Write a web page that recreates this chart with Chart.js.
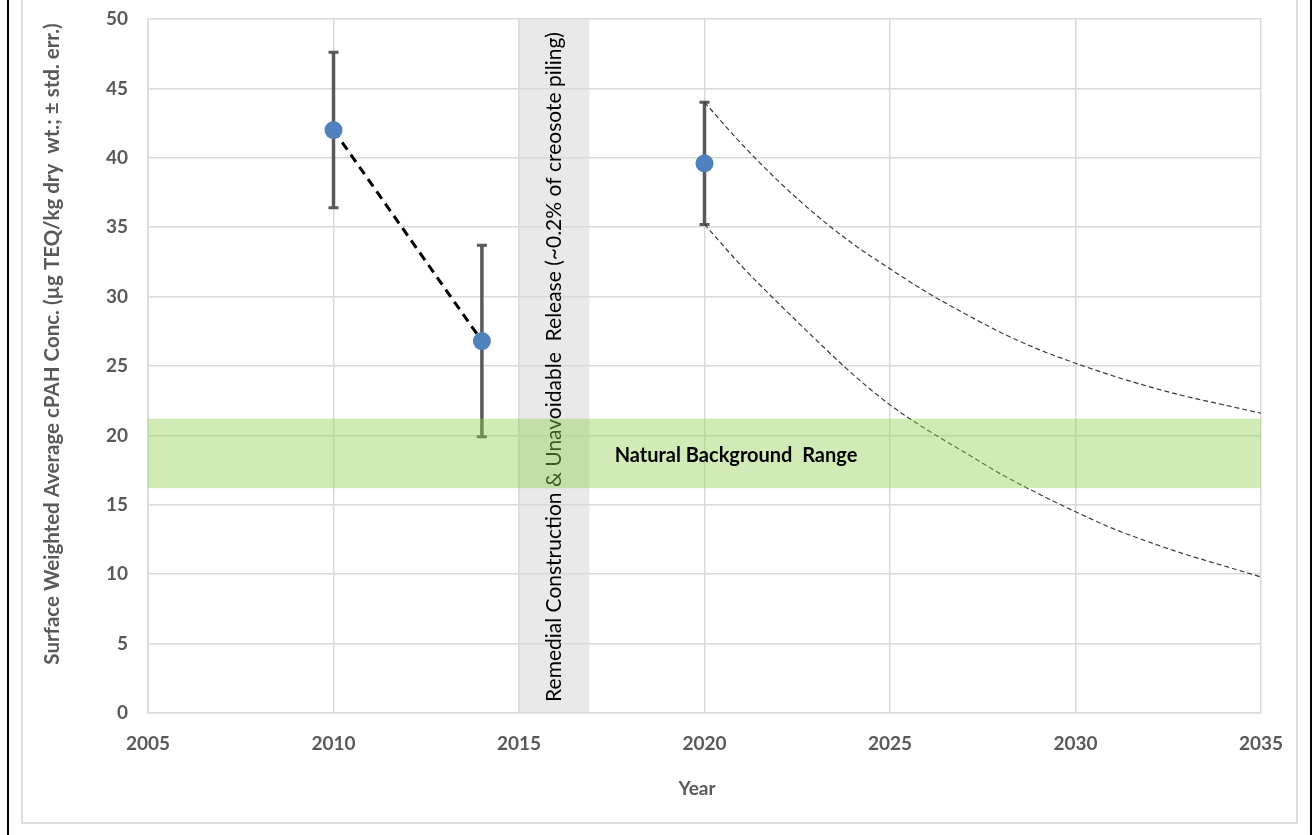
<!DOCTYPE html>
<html>
<head>
<meta charset="utf-8">
<script src="https://cdn.jsdelivr.net/npm/chart.js@4.4.1/dist/chart.umd.min.js"></script>
<style>
  html, body { margin: 0; padding: 0; background: #fff; }
  body { width: 1313px; height: 835px; position: relative; overflow: hidden; }
  .edge { position: absolute; top: 0; width: 2px; height: 835px; background: #000; }
  #frame { position: absolute; left: 21px; top: -2px; width: 1277px; height: 826px;
           border: 2px solid #dcdcdc; box-sizing: border-box; }
  #wrap { position: absolute; left: 0; top: 0; width: 1313px; height: 835px; }
</style>
</head>
<body>
<div class="edge" style="left:7px"></div>
<div class="edge" style="left:1310px"></div>
<div id="frame"></div>
<div id="wrap"><canvas id="c" width="1313" height="835"></canvas></div>
<script>
// Measured surface-weighted averages (± standard error)
const measYears  = [2010, 2014, 2020];
const measConc   = [42.0, 26.8, 39.6];
const measStdErr = [5.6, 6.9, 4.4];

// Projected recovery envelope after construction
const projYears = [2020, 2021, 2022, 2023, 2024, 2025, 2026, 2027, 2028, 2029, 2030, 2031, 2032, 2033, 2034, 2035];
const projUpper = [44.0, 41.0, 38.3, 35.9, 33.8, 32.0, 30.3, 28.8, 27.4, 26.2, 25.2, 24.3, 23.5, 22.8, 22.2, 21.6];
const projLower = [35.2, 32.2, 29.5, 26.9, 24.4, 22.2, 20.4, 18.8, 17.2, 15.8, 14.5, 13.3, 12.3, 11.4, 10.6, 9.8];

// Reference ranges
const backgroundRange = [16.2, 21.2];
const constructionPeriod = [2015.0, 2016.9];

// Axis ticks
const xTicks = [2005, 2010, 2015, 2020, 2025, 2030, 2035];
const yTicks = [0, 5, 10, 15, 20, 25, 30, 35, 40, 45, 50];

const FONT = 'Lato, "Open Sans", sans-serif';
const AXIS_GREY = '#595959';
const GRID = '#d9d9d9';

const pts = (xs, ys) => xs.map((x, i) => ({ x, y: ys[i] }));

// Grey construction-period band under the grid
const constructionBand = {
  id: 'constructionBand',
  beforeDraw(chart) {
    const { ctx, chartArea: a, scales: { x } } = chart;
    const x0 = x.getPixelForValue(constructionPeriod[0]);
    const x1 = x.getPixelForValue(constructionPeriod[1]);
    ctx.save();
    ctx.fillStyle = '#e9e9e9';
    ctx.fillRect(x0, a.top, x1 - x0, a.bottom - a.top);
    ctx.restore();
  },
  beforeDatasetsDraw(chart) {
    const { ctx, chartArea: a, scales: { x } } = chart;
    const cx = x.getPixelForValue((constructionPeriod[0] + constructionPeriod[1]) / 2);
    ctx.save();
    ctx.translate(cx, (a.top + a.bottom) / 2 + 1);
    ctx.rotate(-Math.PI / 2);
    ctx.fillStyle = '#000';
    ctx.font = '21px ' + FONT;
    ctx.textAlign = 'center';
    ctx.textBaseline = 'middle';
    ctx.fillText('Remedial Construction & Unavoidable  Release (~0.2% of creosote piling)', 0, 0);
    ctx.restore();
  }
};

// Standard-error whiskers behind the markers
const errorBars = {
  id: 'errorBars',
  beforeDatasetsDraw(chart) {
    const { ctx, scales: { x, y } } = chart;
    ctx.save();
    ctx.strokeStyle = AXIS_GREY;
    measYears.forEach((yr, i) => {
      const px = x.getPixelForValue(yr);
      const top = y.getPixelForValue(measConc[i] + measStdErr[i]);
      const bot = y.getPixelForValue(measConc[i] - measStdErr[i]);
      ctx.lineWidth = 3.5;
      ctx.beginPath();
      ctx.moveTo(px, top); ctx.lineTo(px, bot);
      ctx.stroke();
      ctx.lineWidth = 3;
      ctx.beginPath();
      ctx.moveTo(px - 5, top); ctx.lineTo(px + 5, top);
      ctx.moveTo(px - 5, bot); ctx.lineTo(px + 5, bot);
      ctx.stroke();
    });
    ctx.restore();
  }
};

// Translucent natural background band with its label
const backgroundBand = {
  id: 'backgroundBand',
  afterDatasetsDraw(chart) {
    const { ctx, chartArea: a, scales: { x, y } } = chart;
    const yTop = y.getPixelForValue(backgroundRange[1]);
    const yBot = y.getPixelForValue(backgroundRange[0]);
    ctx.save();
    ctx.fillStyle = 'rgba(146, 208, 80, 0.42)';
    ctx.fillRect(a.left, yTop, a.right - a.left, yBot - yTop);
    ctx.fillStyle = '#000';
    ctx.font = 'bold 20px ' + FONT;
    ctx.textAlign = 'center';
    ctx.textBaseline = 'middle';
    ctx.fillText('Natural Background  Range', 736, (yTop + yBot) / 2 + 2);
    ctx.restore();
  }
};

// Axis titles
const axisTitles = {
  id: 'axisTitles',
  afterDraw(chart) {
    const { ctx } = chart;
    ctx.save();
    ctx.fillStyle = AXIS_GREY;
    ctx.textAlign = 'center';
    ctx.textBaseline = 'middle';
    ctx.font = 'bold 19px ' + FONT;
    ctx.fillText('Year', 697, 789);
    ctx.translate(52, 344);
    ctx.rotate(-Math.PI / 2);
    ctx.font = 'bold 20.5px ' + FONT;
    ctx.fillText('Surface Weighted Average cPAH Conc. (\u00b5g TEQ/kg dry  wt.; \u00b1 std. err.)', 0, 0);
    ctx.restore();
  }
};

const tickFont = { family: FONT, size: 19, weight: 'bold' };

new Chart(document.getElementById('c'), {
  type: 'scatter',
  data: {
    datasets: [
      {
        label: 'Measured',
        data: pts(measYears, measConc),
        showLine: false,
        pointRadius: 9,
        pointHoverRadius: 9,
        pointBackgroundColor: '#4f81bd',
        pointBorderColor: '#4f81bd',
        pointBorderWidth: 0
      },
      {
        label: 'Pre-construction trend',
        data: pts(measYears.slice(0, 2), measConc.slice(0, 2)),
        showLine: true,
        borderColor: '#000',
        borderWidth: 3,
        borderDash: [9, 6],
        pointRadius: 0
      },
      {
        label: 'Projection (upper)',
        data: pts(projYears, projUpper),
        showLine: true,
        borderColor: '#3a3a3a',
        borderWidth: 1.2,
        borderDash: [5, 3],
        cubicInterpolationMode: 'monotone',
        pointRadius: 0
      },
      {
        label: 'Projection (lower)',
        data: pts(projYears, projLower),
        showLine: true,
        borderColor: '#3a3a3a',
        borderWidth: 1.2,
        borderDash: [5, 3],
        cubicInterpolationMode: 'monotone',
        pointRadius: 0
      }
    ]
  },
  options: {
    responsive: false,
    animation: false,
    layout: { padding: { left: 0, top: 19, right: 52, bottom: 0 } },
    plugins: { legend: { display: false }, tooltip: { enabled: false } },
    scales: {
      x: {
        type: 'linear',
        min: 2005, max: 2035,
        afterBuildTicks: s => { s.ticks = xTicks.map(v => ({ value: v })); },
        afterFit: s => { s.height = 122; },
        grid: { color: GRID, lineWidth: 1.5, drawTicks: false },
        border: { color: GRID, width: 1.5 },
        ticks: { padding: 19, color: AXIS_GREY, font: tickFont, maxRotation: 0, autoSkip: false,
                 callback: v => String(v) }
      },
      y: {
        type: 'linear',
        min: 0, max: 50,
        afterBuildTicks: s => { s.ticks = yTicks.map(v => ({ value: v })); },
        afterFit: s => { s.width = 148; s.paddingTop = 0; s.paddingBottom = 0; },
        grid: { color: GRID, lineWidth: 1.5, drawTicks: false },
        border: { color: GRID, width: 1.5 },
        ticks: { padding: 20, color: AXIS_GREY, font: tickFont, callback: v => String(v) }
      }
    }
  },
  plugins: [constructionBand, errorBars, backgroundBand, axisTitles]
});
</script>
</body>
</html>
